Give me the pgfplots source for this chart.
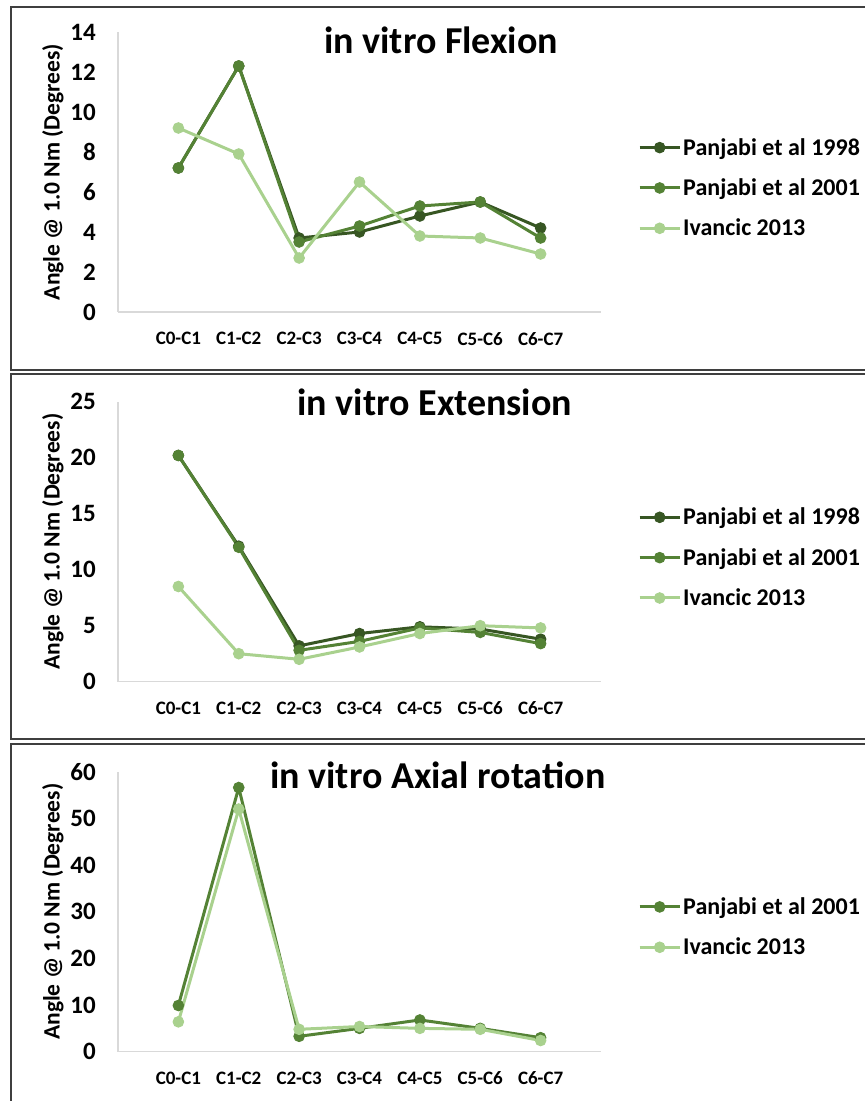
\documentclass[border=0pt]{standalone}
\usepackage{pgfplots}
\pgfplotsset{compat=1.18}
\usepackage{fontspec}
\setmainfont{Carlito}
\definecolor{cDark}{HTML}{375623}
\definecolor{cMid}{HTML}{548235}
\definecolor{cLight}{HTML}{A9D18E}
\definecolor{axgray}{HTML}{D9D9D9}
\definecolor{framec}{HTML}{3F3F3F}

\pgfplotsset{
  panel/.style={
    scale only axis, width=483pt, height=280pt,
    anchor=south west,
    xmin=0, xmax=8, ymin=0,
    axis lines*=left,
    axis line style={draw=axgray, line width=1.2pt, -},
    xtick={1,...,7},
    xticklabels={C0-C1,C1-C2,C2-C3,C3-C4,C4-C5,C5-C6,C6-C7},
    major tick length=0pt,
    /pgf/number format/assume math mode=true,
    yticklabel style={font=\fontsize{25}{28}\selectfont\bfseries, inner sep=0pt, xshift=-22pt},
    xticklabel style={font=\fontsize{19}{22}\selectfont\bfseries, inner sep=0pt, yshift=-20pt},
    ylabel={Angle @ 1.0 Nm (Degrees)},
    ylabel style={at={(axis description cs:-0.1346,0.5)}, anchor=center, rotate=0, font=\fontsize{23.5}{26}\selectfont\bfseries},
    legend style={draw=none, fill=none, at={(1.0766,0.443)}, anchor=west, inner sep=0pt, row sep=18pt, font=\fontsize{24}{26}\selectfont\bfseries, nodes={inner sep=2pt}},
    legend cell align=left,
    legend image code/.code={\draw[mark repeat=2,mark phase=2,##1] plot coordinates {(0pt,0pt) (20pt,0pt) (40pt,0pt)};},
    every axis plot/.append style={line width=3pt, mark=*, mark size=5.3pt, mark options={line width=1pt}},
    title style={font=\fontsize{38}{42}\selectfont\bfseries, anchor=center},
    clip=false,
  },
}

\pgfplotstableread{
x p98 p01 iv
1 7.2 7.2 9.2
2 12.3 12.3 7.9
3 3.7 3.5 2.7
4 4.0 4.3 6.5
5 4.8 5.3 3.8
6 5.5 5.5 3.7
7 4.2 3.7 2.9
}\flex
\pgfplotstableread{
x p98 p01 iv
1 20.2 20.2 8.5
2 12.1 12.0 2.5
3 3.2 2.8 2.0
4 4.3 3.6 3.1
5 4.9 4.8 4.3
6 4.7 4.4 5.0
7 3.8 3.4 4.8
}\ext
\pgfplotstableread{
x p01 iv
1 9.9 6.4
2 56.6 52.0
3 3.3 4.8
4 5.0 5.4
5 6.8 5.0
6 5.0 4.8
7 3.0 2.4
}\axial

\begin{document}
\begin{tikzpicture}
\path[use as bounding box] (0pt,0pt) rectangle (865pt,1101pt);
% frames
\draw[framec, line width=2pt] (870pt,1094pt) -- (11pt,1094pt) -- (11pt,731pt) -- (870pt,731pt);
\draw[framec, line width=2pt] (870pt,727pt) -- (11pt,727pt) -- (11pt,362pt) -- (870pt,362pt);
\draw[framec, line width=2pt] (870pt,357pt) -- (11pt,357pt) -- (11pt,-5pt);

\begin{axis}[panel, at={(118pt,789pt)}, ymax=14, ytick={0,2,...,14},
  title={in vitro Flexion}, title style={at={(0.669,0.948)}}]
\addplot[cDark] table[x=x,y=p98]{\flex};
\addplot[cMid] table[x=x,y=p01]{\flex};
\addplot[cLight] table[x=x,y=iv]{\flex};
\legend{Panjabi et al 1998,Panjabi et al 2001,Ivancic 2013}
\end{axis}

\begin{axis}[panel, at={(118pt,419.3pt)}, ymax=25, ytick={0,5,...,25},
  title={in vitro Extension}, title style={at={(0.656,0.977)}}]
\addplot[cDark] table[x=x,y=p98]{\ext};
\addplot[cMid] table[x=x,y=p01]{\ext};
\addplot[cLight] table[x=x,y=iv]{\ext};
\legend{Panjabi et al 1998,Panjabi et al 2001,Ivancic 2013}
\end{axis}

\begin{axis}[panel, at={(118pt,49.3pt)}, ymax=60, ytick={0,10,...,60},
  title={in vitro Axial rotation}, title style={at={(0.662,0.967)}},
  legend style={at={(1.0766,0.445)}}]
\addplot[cMid] table[x=x,y=p01]{\axial};
\addplot[cLight] table[x=x,y=iv]{\axial};
\legend{Panjabi et al 2001,Ivancic 2013}
\end{axis}
\end{tikzpicture}
\end{document}
